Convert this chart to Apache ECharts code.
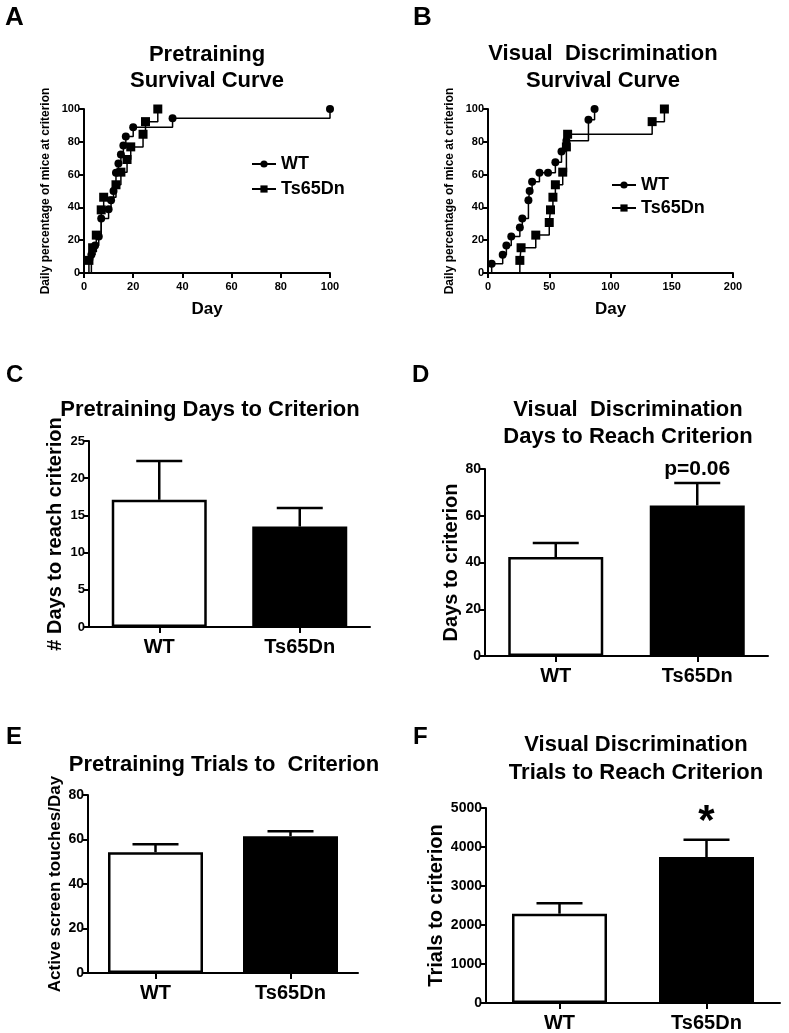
<!DOCTYPE html>
<html><head><meta charset="utf-8">
<script src="https://cdn.jsdelivr.net/npm/echarts@6/dist/echarts.min.js"></script>
<style>html,body{margin:0;padding:0;background:#fff}#c{width:789px;height:1033px}</style>
</head><body><div id="c"></div>
<script>
// ---------- DATA ----------
const groups = ['WT', 'Ts65Dn'];
// Panel A: Pretraining survival curve (day, % at criterion)
const aWtDay = [3, 4.5, 6, 7, 10, 11, 12, 13, 14, 15, 16, 17, 20, 36, 100];
const aWtPct = [11.1, 16.7, 22.2, 33.3, 38.9, 44.4, 50, 61.1, 66.7, 72.2, 77.8, 83.3, 88.9, 94.4, 100];
const aTsDay = [2, 3.5, 5, 7, 8, 13, 15, 17.5, 19, 24, 25, 30];
const aTsPct = [7.7, 15.4, 23.1, 38.5, 46.2, 53.8, 61.5, 69.2, 76.9, 84.6, 92.3, 100];
// Panel B: Visual discrimination survival curve
const bWtDay = [3, 12, 15, 19, 26, 28, 33, 34, 36, 42, 49, 55, 60, 64, 82, 87];
const bWtPct = [5.6, 11.1, 16.7, 22.2, 27.8, 33.3, 44.4, 50, 55.6, 61.1, 61.1, 67.6, 74.1, 80.6, 93.5, 100];
const bTsDay = [26, 27, 39, 50, 51, 53, 55, 61, 64, 65, 134, 144];
const bTsPct = [7.7, 15.4, 23.1, 30.8, 38.5, 46.2, 53.8, 61.5, 76.9, 84.6, 92.3, 100];
// Panel C: Pretraining days to criterion (mean, sem)
const cMean = [17.1, 13.5];
const cSem = [5.2, 2.5];
// Panel D: Visual discrimination days to reach criterion
const dMean = [42.3, 64.4];
const dSem = [6.0, 9.6];
const dNote = ['', 'p=0.06'];
// Panel E: Pretraining trials to criterion
const eMean = [54.3, 61.5];
const eSem = [3.6, 2.2];
// Panel F: Visual discrimination trials to reach criterion
const fMean = [2290, 3744];
const fSem = [265, 444];
const fNote = ['', '*'];

// ---------- CHART ----------
const FONT = '"Liberation Sans", Arial, Helvetica, sans-serif';
const BLACK = '#000';
const grids = [
  {left: 84, top: 109, width: 246, height: 164},
  {left: 488, top: 109, width: 245, height: 164},
  {left: 89, top: 441, width: 281, height: 186},
  {left: 485, top: 469, width: 283, height: 187},
  {left: 88, top: 795, width: 270, height: 178},
  {left: 486, top: 808, width: 294, height: 195}
];

function valAxis(gi, min, max, interval, name, nameGap, nameSize, labelSize, margin) {
  return {
    type: 'value', gridIndex: gi, min, max, interval,
    name, nameLocation: 'middle', nameGap,
    nameTextStyle: {fontFamily: FONT, fontWeight: 'bold', fontSize: nameSize, color: BLACK},
    axisLine: {show: true, onZero: false, lineStyle: {color: BLACK, width: 2}},
    axisTick: {show: true, length: 5, lineStyle: {color: BLACK, width: 2}},
    axisLabel: {fontFamily: FONT, fontWeight: 'bold', fontSize: labelSize, color: BLACK, margin: margin || 4,
      formatter: v => String(v)},
    splitLine: {show: false}
  };
}
function catAxis(gi) {
  return {
    type: 'category', gridIndex: gi, data: groups,
    axisLine: {show: true, lineStyle: {color: BLACK, width: 2}},
    axisTick: {show: true, alignWithLabel: true, length: 6, lineStyle: {color: BLACK, width: 2}},
    axisLabel: {fontFamily: FONT, fontWeight: 'bold', fontSize: 20, color: BLACK, margin: 10}
  };
}
function kmSeries(name, days, pcts, symbol, size, gi) {
  const data = [{value: [days[0], 0], symbol: 'none'}]
    .concat(days.map((d, i) => ({value: [d, pcts[i]]})));
  return {
    type: 'line', name, xAxisIndex: gi, yAxisIndex: gi, step: 'end', data,
    symbol, symbolSize: size, showSymbol: true, showAllSymbol: true,
    lineStyle: {color: BLACK, width: 1.5}, itemStyle: {color: BLACK},
    animation: false, silent: true
  };
}
function barSeries(gi, means) {
  return {
    type: 'bar', name: 'bar' + gi, xAxisIndex: gi, yAxisIndex: gi, barWidth: 95,
    data: means.map((v, i) => ({value: v, itemStyle: {color: i === 0 ? '#fff' : BLACK, borderColor: BLACK, borderWidth: 2.5}})),
    animation: false, silent: true
  };
}
function errSeries(gi, means, sems, notes, noteSize, noteGap) {
  return {
    type: 'custom', xAxisIndex: gi, yAxisIndex: gi, z: 5, animation: false, silent: true,
    data: means.map((m, i) => [i, m, m + sems[i]]),
    renderItem(params, api) {
      const i = api.value(0);
      const p0 = api.coord([i, api.value(1)]);
      const p1 = api.coord([i, api.value(2)]);
      const ch = [
        {type: 'line', shape: {x1: p0[0], y1: p0[1], x2: p1[0], y2: p1[1]}, style: {stroke: BLACK, lineWidth: 2.5}},
        {type: 'line', shape: {x1: p1[0] - 23, y1: p1[1], x2: p1[0] + 23, y2: p1[1]}, style: {stroke: BLACK, lineWidth: 2.5}}
      ];
      const t = notes ? notes[params.dataIndex] : '';
      if (t) {
        ch.push({type: 'text', x: p1[0], y: p1[1] - noteGap,
          style: {text: t, fill: BLACK, fontFamily: FONT, fontWeight: 'bold', fontSize: noteSize, align: 'center', verticalAlign: 'bottom'}});
      }
      return {type: 'group', children: ch};
    }
  };
}
function txt(x, y, text, size, align) {
  return {type: 'text', x, y, silent: true,
    style: {text, fill: BLACK, font: 'bold ' + size + 'px ' + FONT,
      textAlign: align || 'center', align: align || 'center',
      textVerticalAlign: 'middle', verticalAlign: 'middle'}};
}

const option = {
  backgroundColor: '#fff',
  animation: false,
  grid: grids,
  xAxis: [
    valAxis(0, 0, 100, 20, 'Day', 28, 17, 11, 8),
    valAxis(1, 0, 200, 50, 'Day', 28, 17, 11, 8),
    catAxis(2), catAxis(3), catAxis(4), catAxis(5)
  ],
  yAxis: [
    valAxis(0, 0, 100, 20, 'Daily percentage of mice at criterion', 32, 12, 11),
    valAxis(1, 0, 100, 20, 'Daily percentage of mice at criterion', 32, 12, 11),
    valAxis(2, 0, 25, 5, '# Days to reach criterion', 24, 20, 13),
    valAxis(3, 0, 80, 20, 'Days to criterion', 24, 20, 14),
    valAxis(4, 0, 80, 20, 'Active screen touches/Day', 24, 17, 14),
    valAxis(5, 0, 5000, 1000, 'Trials to criterion', 38, 20, 14)
  ],
  legend: [
    {data: groups, left: 246, top: 150, orient: 'vertical', itemGap: 7, itemWidth: 24, itemHeight: 9, selectedMode: false,
      textStyle: {fontFamily: FONT, fontWeight: 'bold', fontSize: 18, color: BLACK}},
    {data: groups, left: 606, top: 171, orient: 'vertical', itemGap: 5, itemWidth: 24, itemHeight: 9, selectedMode: false,
      textStyle: {fontFamily: FONT, fontWeight: 'bold', fontSize: 18, color: BLACK}}
  ],
  series: [
    kmSeries('WT', aWtDay, aWtPct, 'circle', 8, 0),
    kmSeries('Ts65Dn', aTsDay, aTsPct, 'rect', 9, 0),
    kmSeries('WT', bWtDay, bWtPct, 'circle', 8, 1),
    kmSeries('Ts65Dn', bTsDay, bTsPct, 'rect', 9, 1),
    barSeries(2, cMean), errSeries(2, cMean, cSem),
    barSeries(3, dMean), errSeries(3, dMean, dSem, dNote, 21, 3),
    barSeries(4, eMean), errSeries(4, eMean, eSem),
    barSeries(5, fMean), errSeries(5, fMean, fSem, fNote, 42, -4)
  ],
  graphic: [
    txt(5, 18, 'A', 26, 'left'), txt(413, 18, 'B', 26, 'left'),
    txt(6, 375, 'C', 24, 'left'), txt(412, 375, 'D', 24, 'left'),
    txt(6, 737, 'E', 24, 'left'), txt(413, 737, 'F', 24, 'left'),
    txt(207, 55, 'Pretraining', 22), txt(207, 81, 'Survival Curve', 22),
    txt(603, 54, 'Visual  Discrimination', 22), txt(603, 81, 'Survival Curve', 22),
    txt(210, 410, 'Pretraining Days to Criterion', 22),
    txt(628, 410, 'Visual  Discrimination', 22), txt(628, 437, 'Days to Reach Criterion', 22),
    txt(224, 765, 'Pretraining Trials to  Criterion', 22),
    txt(636, 745, 'Visual Discrimination', 22), txt(636, 773, 'Trials to Reach Criterion', 22)
  ]
};
const chart = echarts.init(document.getElementById('c'), null, {renderer: 'canvas'});
chart.setOption(option);
</script>
</body></html>
